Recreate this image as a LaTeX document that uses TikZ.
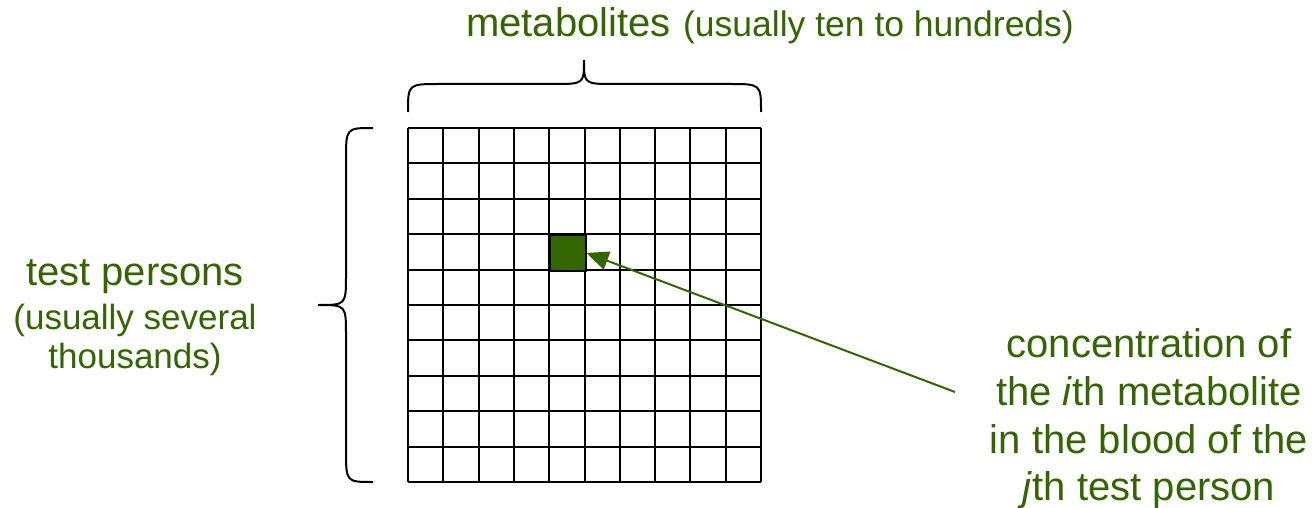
\documentclass[tikz,border=0pt]{standalone}
\usepackage{fontspec}
\setmainfont{Liberation Sans}
\usetikzlibrary{arrows.meta}
\definecolor{lblgreen}{HTML}{336600}
\begin{document}
\begin{tikzpicture}[x=1pt,y=-1pt,
  bigtxt/.style={text=lblgreen,font=\fontsize{40}{46}\selectfont,inner sep=0pt},
  smalltxt/.style={text=lblgreen,font=\fontsize{35}{40}\selectfont,inner sep=0pt},
  toptxt/.style={text=lblgreen,font=\fontsize{35.5}{40}\selectfont,inner sep=0pt},
  gridline/.style={line width=2pt,black},
  bracestyle/.style={line width=2pt,black},
  pointer/.style={line width=2pt,lblgreen,-{Triangle[length=22pt,width=19pt]}}]
\useasboundingbox (0,0) rectangle (1314,508);
% grid
\foreach \k in {0,...,10} {
  \draw[gridline] ({408+35.3*\k},128) -- ({408+35.3*\k},482);
  \draw[gridline] (408,{128+35.4*\k}) -- (761,{128+35.4*\k});
}
% highlighted cell
\node (cell) [draw=black,line width=2pt,fill=lblgreen,minimum width=35.3pt,minimum height=35.4pt,inner sep=0pt,anchor=north west] at (549.2,234.2) {};
% braces
\draw[bracestyle] (408,112) .. controls (408,84) .. (440,84) -- (554,84) .. controls (584,84) .. (584,60)
  .. controls (584,84) .. (614,84) -- (729,84) .. controls (761,84) .. (761,112);
\draw[bracestyle] (373,128) .. controls (346,128) .. (346,160) -- (346,275) .. controls (346,305) .. (318,305)
  .. controls (346,305) .. (346,335) -- (346,450) .. controls (346,482) .. (373,482);
% top label
\node (met) [bigtxt,anchor=base west] at (466,37) {metabolites};
\node (metp) [toptxt,anchor=base west] at ([xshift=12pt]met.base east) {(usually ten to hundreds)};
% left label
\node (tp1) [bigtxt,anchor=base] at (135,285) {test persons};
\node (tp2) [smalltxt,anchor=base] at (135,329) {(usually several};
\node (tp3) [smalltxt,anchor=base] at (135,368) {thousands)};
% right label
\node (c1) [bigtxt,anchor=base] at (1149,357) {concentration of};
\node (c2) [bigtxt,anchor=base] at (1149,405) {the \textit{i}th metabolite};
\node (c3) [bigtxt,anchor=base] at (1149,453) {in the blood of the};
\node (c4) [bigtxt,anchor=base] at (1149,500) {\textit{j}th test person};
\coordinate (arrstart) at (955,392);
\draw[pointer] (arrstart) -- (cell.east);
\end{tikzpicture}
\end{document}
